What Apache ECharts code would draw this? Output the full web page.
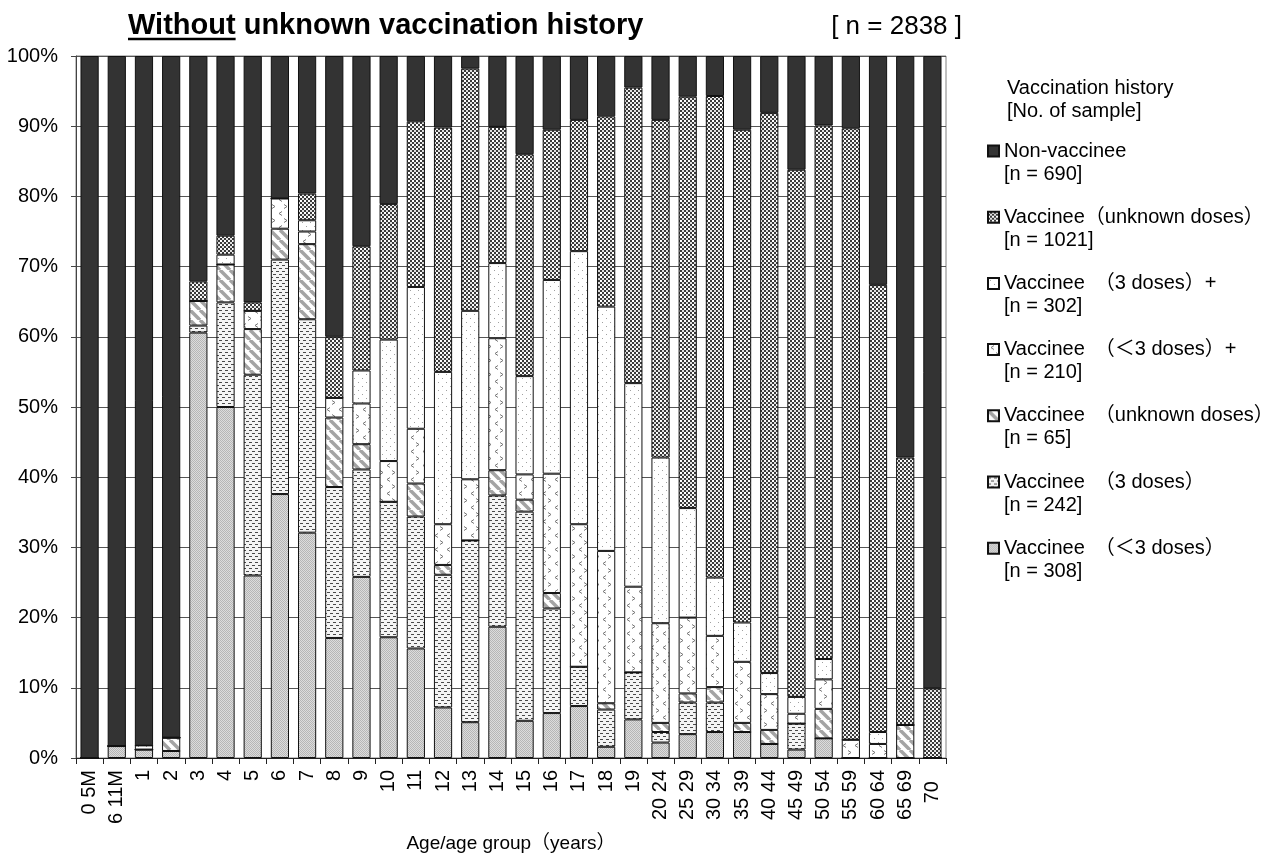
<!DOCTYPE html>
<html>
<head>
<meta charset="utf-8">
<script src="https://cdn.jsdelivr.net/npm/echarts@6/dist/echarts.min.js"></script>
<style>
  html, body { margin: 0; padding: 0; background: #fff; }
  #chart { width: 1274px; height: 865px; }
</style>
</head>
<body>
<div id="chart"></div>
<script>
const ageGroups = ['0 5M', '6 11M', '1', '2', '3', '4', '5', '6', '7', '8', '9', '10', '11', '12', '13', '14', '15', '16', '17', '18', '19',
  '20 24', '25 29', '30 34', '35 39', '40 44', '45 49', '50 54', '55 59', '60 64', '65 69', '70  '];

// percentages per age group, stacked bottom -> top
const lt3Doses       = [0, 1.7, 1.2, 1.0, 60.6, 50.0, 26.0, 37.6, 32.1, 17.1, 25.8, 17.2, 15.6, 7.2, 5.1, 18.7, 5.3, 6.4, 7.4, 1.6, 5.5, 2.2, 3.4, 3.7, 3.7, 2.0, 1.2, 2.8, 0, 0, 0, 0];
const threeDoses     = [0, 0, 0, 0, 1.0, 14.9, 28.6, 33.4, 30.4, 21.5, 15.3, 19.3, 18.8, 18.9, 25.9, 18.7, 29.8, 14.9, 5.6, 5.3, 6.7, 1.5, 4.5, 4.2, 0, 0, 3.7, 0, 0, 0, 0, 0];
const unknownDoses   = [0, 0, 0, 1.9, 3.5, 5.4, 6.5, 4.4, 10.7, 9.9, 3.6, 0, 4.7, 1.4, 0, 3.6, 1.7, 2.2, 0, 0.9, 0, 1.3, 1.3, 2.2, 1.3, 2.0, 0, 4.2, 0, 0, 4.7, 0];
const lt3DosesPlus   = [0, 0, 0, 0, 0, 0, 2.6, 4.3, 1.8, 2.8, 5.8, 5.8, 7.8, 5.8, 8.7, 18.8, 3.6, 17.0, 20.3, 21.7, 12.2, 14.2, 10.8, 7.3, 8.7, 5.1, 1.4, 4.2, 2.6, 2.0, 0, 0];
const threeDosesPlus = [0, 0, 0.6, 0, 0, 1.4, 0, 0, 1.6, 0, 4.7, 17.3, 20.2, 21.7, 24.0, 10.7, 14.0, 27.6, 38.9, 34.8, 29.0, 23.6, 15.6, 8.3, 5.6, 3.0, 2.4, 2.9, 0, 1.7, 0, 0];
const vaccUnknown    = [0, 0, 0, 0, 2.8, 2.7, 1.2, 0, 3.8, 8.7, 17.7, 19.3, 23.6, 34.8, 34.5, 19.4, 31.6, 21.4, 18.7, 27.1, 42.1, 48.1, 58.6, 68.6, 70.2, 79.8, 75.1, 76.0, 87.1, 63.7, 38.1, 9.9];
const nonVaccinee    = [100, 98.3, 98.2, 97.1, 32.1, 25.6, 35.1, 20.3, 19.6, 40.0, 27.1, 21.1, 9.3, 10.2, 1.8, 10.1, 14.0, 10.5, 9.1, 8.6, 4.5, 9.1, 5.8, 5.7, 10.5, 8.1, 16.2, 9.9, 10.3, 32.6, 57.2, 90.1];

const seriesNames = ['Vaccinee　（＜3 doses）', 'Vaccinee　（3 doses）', 'Vaccinee　（unknown doses）',
  'Vaccinee　（＜3 doses）+', 'Vaccinee　（3 doses）+', 'Vaccinee（unknown doses）', 'Non-vaccinee'];
const sampleCounts = ['[n = 308]', '[n = 242]', '[n = 65]', '[n = 210]', '[n = 302]', '[n = 1021]', '[n = 690]'];

const FONT = "'Liberation Sans', Arial, 'Noto Sans CJK JP', sans-serif";

function tile(w, h, draw) {
  const c = document.createElement('canvas');
  c.width = w; c.height = h;
  const ctx = c.getContext('2d');
  draw(ctx);
  return { image: c, repeat: 'repeat' };
}

const fills = [
  // < 3 doses : fine grey dither
  tile(2, 2, ctx => {
    ctx.fillStyle = '#dcdcdc'; ctx.fillRect(0, 0, 2, 2);
    ctx.fillStyle = '#b6b6b6'; ctx.fillRect(0, 0, 1, 1); ctx.fillRect(1, 1, 1, 1);
  }),
  // 3 doses : little dashes
  tile(6, 6, ctx => {
    ctx.fillStyle = '#f4f4f4'; ctx.fillRect(0, 0, 6, 6);
    ctx.fillStyle = '#4a4a4a'; ctx.fillRect(0, 1, 3, 1); ctx.fillRect(3, 4, 3, 1);
  }),
  // unknown doses : diagonal hatch
  tile(10, 10, ctx => {
    ctx.fillStyle = '#fff'; ctx.fillRect(0, 0, 10, 10);
    ctx.strokeStyle = '#a4a4a4'; ctx.lineWidth = 3.5;
    [-10, 0, 10].forEach(o => { ctx.beginPath(); ctx.moveTo(o, 0); ctx.lineTo(o + 10, 10); ctx.stroke(); });
  }),
  // < 3 doses + : chevrons
  tile(12, 14, ctx => {
    ctx.fillStyle = '#fff'; ctx.fillRect(0, 0, 12, 14);
    ctx.strokeStyle = '#777'; ctx.lineWidth = 1;
    ctx.beginPath(); ctx.moveTo(6, 1.5); ctx.lineTo(3, 3.5); ctx.lineTo(6, 5.5); ctx.stroke();
    ctx.beginPath(); ctx.moveTo(8, 8.5); ctx.lineTo(11, 10.5); ctx.lineTo(8, 12.5); ctx.stroke();
  }),
  // 3 doses + : sparse dots
  tile(8, 8, ctx => {
    ctx.fillStyle = '#fff'; ctx.fillRect(0, 0, 8, 8);
    ctx.fillStyle = '#a0a0a0'; ctx.fillRect(2, 2, 1, 1); ctx.fillRect(6, 6, 1, 1);
  }),
  // vaccinee unknown doses : checker
  tile(4, 4, ctx => {
    ctx.fillStyle = '#3a3a3a'; ctx.fillRect(0, 0, 4, 4);
    ctx.fillStyle = '#ffffff'; ctx.fillRect(0, 0, 2, 2);
    ctx.fillStyle = '#e0e0e0'; ctx.fillRect(2, 2, 2, 2);
  }),
  '#333333'
];

const seriesData = [lt3Doses, threeDoses, unknownDoses, lt3DosesPlus, threeDosesPlus, vaccUnknown, nonVaccinee];

// width of the underlined word
const meas = document.createElement('canvas').getContext('2d');
meas.font = "bold 29px 'Liberation Sans', Arial";
const withoutW = meas.measureText('Without').width;
const titleX = 128;

const chart = echarts.init(document.getElementById('chart'));
chart.setOption({
  animation: false,
  backgroundColor: '#fff',
  textStyle: { fontFamily: FONT },
  grid: { left: 76, right: 328, top: 56, bottom: 107, show: true, borderColor: '#808080', borderWidth: 1 },
  graphic: [
    { type: 'text', x: titleX, y: 26, style: { text: 'Without unknown vaccination history', font: "bold 29px 'Liberation Sans', Arial", fill: '#000', verticalAlign: 'middle' } },
    { type: 'line', shape: { x1: titleX, y1: 39, x2: titleX + withoutW, y2: 39 }, style: { stroke: '#000', lineWidth: 2.5 } },
    { type: 'text', x: 962, y: 27, style: { text: '[ n = 2838 ]', font: "26px 'Liberation Sans', Arial", fill: '#000', align: 'right', verticalAlign: 'middle' } },
    { type: 'text', x: 1007, y: 88, style: { text: 'Vaccination history', font: "20px " + FONT, fill: '#000', verticalAlign: 'middle' } },
    { type: 'text', x: 1007, y: 111, style: { text: '[No. of sample]', font: "20px " + FONT, fill: '#000', verticalAlign: 'middle' } }
  ],
  legend: {
    orient: 'vertical',
    left: 987,
    top: 116.5,
    padding: 0,
    icon: 'rect',
    itemWidth: 11,
    itemHeight: 11,
    itemGap: -2.8,
    selectedMode: false,
    data: seriesNames.slice().reverse(),
    // blank first line keeps the icon beside the name, count goes underneath
    formatter: name => '\n' + name + '\n' + sampleCounts[seriesNames.indexOf(name)],
    textStyle: { fontFamily: FONT, fontSize: 20, color: '#000', lineHeight: 23 }
  },
  xAxis: {
    type: 'category',
    data: ageGroups,
    name: 'Age/age group（years）',
    nameLocation: 'middle',
    nameGap: 76,
    nameTextStyle: { fontFamily: FONT, fontSize: 19, color: '#000' },
    axisLine: { lineStyle: { color: '#222', width: 1 } },
    axisTick: { show: true, length: 6, lineStyle: { color: '#222' } },
    axisLabel: { interval: 0, rotate: 90, fontSize: 20, color: '#000', margin: 12, fontFamily: FONT }
  },
  yAxis: {
    type: 'value',
    min: 0,
    max: 100,
    interval: 10,
    axisLine: { show: true, lineStyle: { color: '#444' } },
    axisTick: { show: true, length: 5, lineStyle: { color: '#444' } },
    axisLabel: { formatter: '{value}%', fontSize: 20, color: '#000', margin: 18, fontFamily: FONT },
    splitLine: { show: true, lineStyle: { color: '#555', width: 1 } }
  },
  series: seriesNames.map((name, i) => ({
    name: name,
    type: 'bar',
    stack: 'share',
    barWidth: '67%',
    data: seriesData[i],
    itemStyle: { color: fills[i], borderColor: '#111', borderWidth: 1 },
    emphasis: { disabled: true }
  }))
});
</script>
</body>
</html>
